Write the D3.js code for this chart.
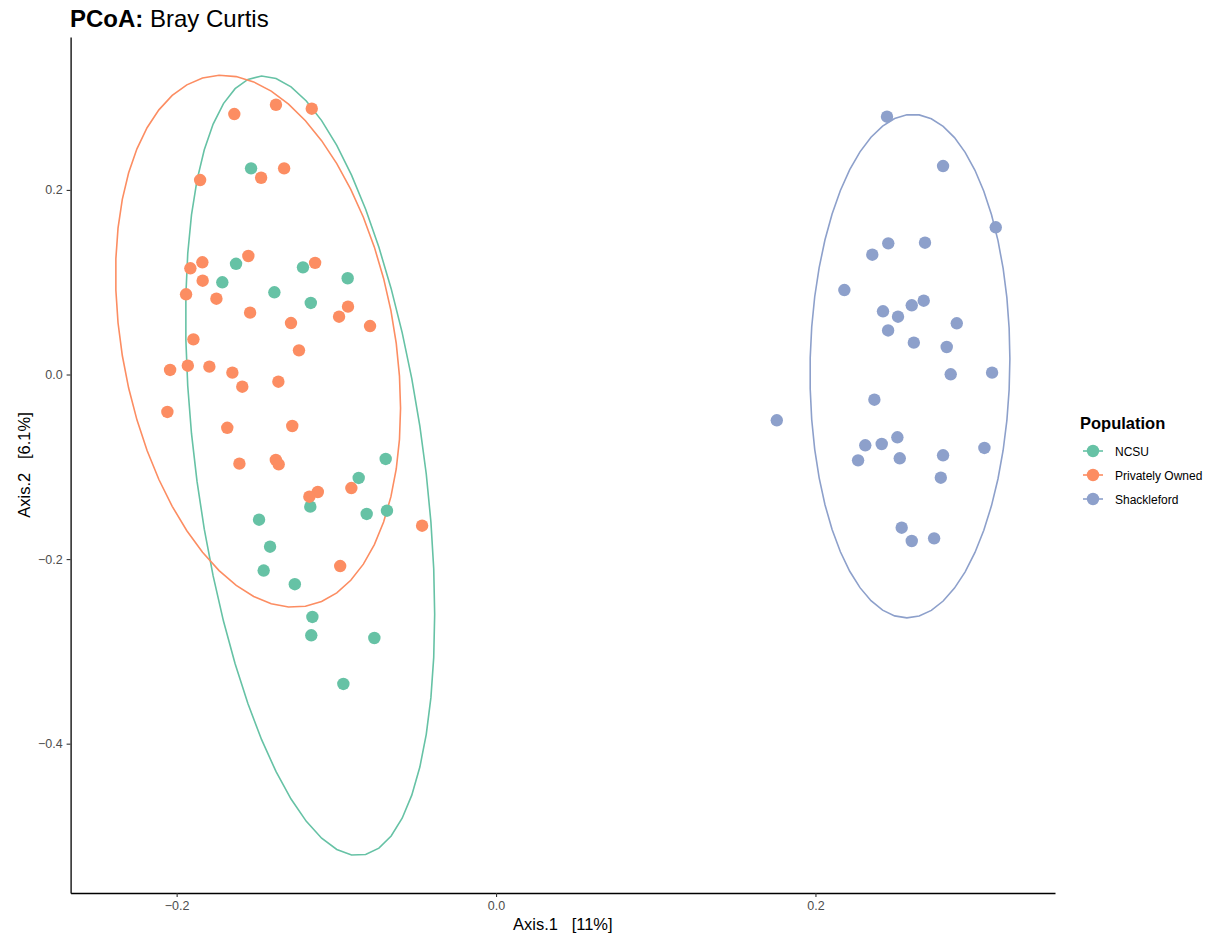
<!DOCTYPE html>
<html>
<head>
<meta charset="utf-8">
<script src="https://cdn.jsdelivr.net/npm/d3@7/dist/d3.min.js"></script>
<style>
  html, body { margin: 0; padding: 0; background: #fff; }
  svg { display: block; font-family: "Liberation Sans", Arial, Helvetica, sans-serif; }
</style>
</head>
<body>
<svg id="chart" width="1205" height="938"></svg>
<script>
// PCoA ordination (Bray-Curtis), first two axes, one array pair per population
const groups = ["NCSU", "Privately Owned", "Shackleford"];
const groupColors = ["#66C2A5", "#FC8D62", "#8DA0CB"];

const ncsuAxis1 = [-0.1534, -0.1628, -0.1209, -0.1714, -0.0929, -0.1388, -0.1160, -0.0691, -0.0860, -0.1163,
                   -0.0810, -0.0683, -0.1484, -0.1415, -0.1455, -0.1260, -0.1150, -0.1157, -0.0762, -0.0956];
const ncsuAxis2 = [0.2234, 0.1200, 0.1161, 0.0999, 0.1043, 0.0891, 0.0775, -0.0915, -0.1121, -0.1432,
                   -0.1511, -0.1476, -0.1573, -0.1866, -0.2124, -0.2272, -0.2627, -0.2826, -0.2855, -0.3353];

const privateAxis1 = [-0.1639, -0.1378, -0.1154, -0.1853, -0.1471, -0.1327, -0.1551, -0.1839, -0.1914, -0.1133,
                      -0.1837, -0.1941, -0.1751, -0.1540, -0.1284, -0.0983, -0.0927, -0.0789, -0.1895, -0.1234,
                      -0.2041, -0.1930, -0.1795, -0.1651, -0.1589, -0.1363, -0.2058, -0.1683, -0.1276, -0.1607,
                      -0.1379, -0.1361, -0.0906, -0.1116, -0.1169, -0.0463, -0.0976];
const privateAxis2 = [0.2822, 0.2923, 0.2880, 0.2107, 0.2132, 0.2234, 0.1284, 0.1216, 0.1151, 0.1210,
                      0.1016, 0.0869, 0.0821, 0.0670, 0.0558, 0.0626, 0.0735, 0.0525, 0.0381, 0.0262,
                      0.0049, 0.0095, 0.0085, 0.0020, -0.0132, -0.0078, -0.0406, -0.0577, -0.0558, -0.0966,
                      -0.0926, -0.0973, -0.1230, -0.1273, -0.1324, -0.1638, -0.2075];

const shackAxis1 = [0.2448, 0.2799, 0.3129, 0.2456, 0.2686, 0.2356, 0.2181, 0.2423, 0.2517, 0.2603,
                    0.2678, 0.2455, 0.2885, 0.2616, 0.2822, 0.2847, 0.3106, 0.2369, 0.1758, 0.2312,
                    0.2415, 0.2513, 0.2267, 0.2528, 0.2799, 0.3058, 0.2785, 0.2540, 0.2603, 0.2743];
const shackAxis2 = [0.2793, 0.2259, 0.1595, 0.1421, 0.1428, 0.1298, 0.0915, 0.0685, 0.0626, 0.0750,
                    0.0800, 0.0477, 0.0555, 0.0345, 0.0298, 0.0002, 0.0020, -0.0273, -0.0496, -0.0767,
                    -0.0753, -0.0680, -0.0930, -0.0908, -0.0875, -0.0796, -0.1118, -0.1660, -0.1804, -0.1775];

const xTicks = [-0.2, 0.0, 0.2];
const yTicks = [-0.4, -0.2, 0.0, 0.2];
const xDomain = [-0.2664, 0.3500];
const yDomain = [-0.5618, 0.3657];

const groupAxis1 = [ncsuAxis1, privateAxis1, shackAxis1];
const groupAxis2 = [ncsuAxis2, privateAxis2, shackAxis2];

// ---- multivariate t covariance (cov.trob, nu = 5) and 95% ellipse ----
function covTrob(xs, ys, nu = 5, maxit = 25, tol = 0.01) {
  const n = xs.length, p = 2;
  let w = new Array(n).fill(1);
  let lx = d3.mean(xs), ly = d3.mean(ys);
  let X = [];
  for (let iter = 0; iter < maxit; iter++) {
    const w0 = w.slice();
    X = xs.map((x, i) => [x - lx, ys[i] - ly]);
    const sw = d3.sum(w);
    let a = 0, b = 0, c = 0;
    X.forEach((v, i) => { a += w[i] * v[0] * v[0]; b += w[i] * v[0] * v[1]; c += w[i] * v[1] * v[1]; });
    a /= sw; b /= sw; c /= sw;
    const det = a * c - b * b;
    const Q = X.map(v => (c * v[0] * v[0] - 2 * b * v[0] * v[1] + a * v[1] * v[1]) / det);
    w = Q.map(q => (nu + p) / (nu + q));
    const sw2 = d3.sum(w);
    lx = d3.sum(xs.map((x, i) => w[i] * x)) / sw2;
    ly = d3.sum(ys.map((y, i) => w[i] * y)) / sw2;
    if (w.every((wi, i) => Math.abs(wi - w0[i]) < tol)) break;
  }
  let a = 0, b = 0, c = 0;
  X.forEach((v, i) => { a += w[i] * v[0] * v[0]; b += w[i] * v[0] * v[1]; c += w[i] * v[1] * v[1]; });
  return { center: [lx, ly], cov: [a / n, b / n, c / n] };
}

function ellipsePath(xs, ys, level = 0.95, segments = 51) {
  const { center, cov } = covTrob(xs, ys);
  const dfd = xs.length - 1;
  // F(2, dfd) quantile in closed form
  const fq = (dfd / 2) * (Math.pow(1 - level, -2 / dfd) - 1);
  const radius = Math.sqrt(2 * fq);
  const r11 = Math.sqrt(cov[0]);
  const r12 = cov[1] / r11;
  const r22 = Math.sqrt(cov[2] - r12 * r12);
  const pts = [];
  for (let k = 0; k <= segments; k++) {
    const t = k * 2 * Math.PI / segments;
    const u = Math.cos(t), v = Math.sin(t);
    pts.push([center[0] + radius * u * r11, center[1] + radius * (u * r12 + v * r22)]);
  }
  return pts;
}

// ---- layout ----
const svg = d3.select("#chart");
const plot = { left: 70.6, right: 1055, top: 37, bottom: 893 };

const x = d3.scaleLinear().domain(xDomain).range([plot.left, plot.right]);
const y = d3.scaleLinear().domain(yDomain).range([plot.bottom, plot.top]);

const fmt = v => (v < 0 ? "\u2212" : "") + Math.abs(v).toFixed(1);

// ellipses
const line = d3.line().x(d => x(d[0])).y(d => y(d[1]));
groups.forEach((g, gi) => {
  svg.append("path")
    .attr("d", line(ellipsePath(groupAxis1[gi], groupAxis2[gi])))
    .attr("fill", "none")
    .attr("stroke", groupColors[gi])
    .attr("stroke-width", 1.6);
});

// points
groups.forEach((g, gi) => {
  svg.append("g").selectAll("circle")
    .data(groupAxis1[gi].map((v, i) => [v, groupAxis2[gi][i]]))
    .join("circle")
    .attr("cx", d => x(d[0]))
    .attr("cy", d => y(d[1]))
    .attr("r", 6.2)
    .attr("fill", groupColors[gi]);
});

// axes (classic theme: left and bottom lines only)
const xAxis = svg.append("g")
  .attr("transform", `translate(0,${plot.bottom})`)
  .call(d3.axisBottom(x).tickValues(xTicks).tickFormat(fmt).tickSize(4).tickSizeOuter(0).tickPadding(4));
const yAxis = svg.append("g")
  .attr("transform", `translate(${plot.left},0)`)
  .call(d3.axisLeft(y).tickValues(yTicks).tickFormat(fmt).tickSize(4).tickSizeOuter(0).tickPadding(4));

[xAxis, yAxis].forEach(ax => {
  ax.select(".domain").attr("stroke", "#000").attr("stroke-width", 1.3);
  ax.selectAll(".tick line").attr("stroke", "#333").attr("stroke-width", 1.1);
  ax.selectAll(".tick text").attr("fill", "#4D4D4D").attr("font-size", 12.5)
    .attr("font-family", "Liberation Sans, Arial, sans-serif");
});

// axis titles
svg.append("text")
  .attr("x", (plot.left + plot.right) / 2).attr("y", 930)
  .attr("text-anchor", "middle").attr("font-size", 16.5).attr("fill", "#000")
  .attr("xml:space", "preserve")
  .text("Axis.1   [11%]");

svg.append("text")
  .attr("transform", `translate(30,${(plot.top + plot.bottom) / 2}) rotate(-90)`)
  .attr("text-anchor", "middle").attr("font-size", 16.5).attr("fill", "#000")
  .attr("xml:space", "preserve")
  .text("Axis.2   [6.1%]");

// title
const title = svg.append("text").attr("x", 70).attr("y", 27).attr("font-size", 24).attr("fill", "#000");
title.append("tspan").attr("font-weight", "bold").text("PCoA:");
title.append("tspan").text(" Bray Curtis");

// legend
const legend = svg.append("g").attr("transform", "translate(1080,0)");
legend.append("text").attr("x", 0).attr("y", 429)
  .attr("font-size", 16.5).attr("font-weight", "bold").attr("fill", "#000").text("Population");
const legendY = [451, 475, 499];
groups.forEach((g, gi) => {
  const row = legend.append("g").attr("transform", `translate(0,${legendY[gi]})`);
  row.append("line").attr("x1", 3).attr("x2", 23).attr("y1", 0).attr("y2", 0)
    .attr("stroke", groupColors[gi]).attr("stroke-width", 1.6);
  row.append("circle").attr("cx", 13).attr("cy", 0).attr("r", 6.2).attr("fill", groupColors[gi]);
  row.append("text").attr("x", 35).attr("y", 4.5).attr("font-size", 12).attr("fill", "#000").text(g);
});
</script>
</body>
</html>
